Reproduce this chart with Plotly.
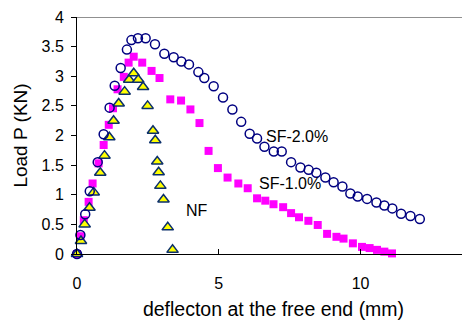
import plotly.graph_objects as go

sf2_x = [0, 0.12, 0.29, 0.45, 0.73, 0.94, 1.15, 1.33, 1.54, 1.76, 1.92, 2.15, 2.42, 2.75, 3.08,
         3.41, 3.68, 3.95, 4.28, 4.49, 4.82, 5.15, 5.48, 5.79, 6.09, 6.35, 6.61, 6.94, 7.22,
         7.55, 7.88, 8.17, 8.44, 8.76, 9.05, 9.36, 9.64, 9.90, 10.23, 10.56, 10.84, 11.12,
         11.43, 11.76, 12.09]
sf2_y = [0, 0.32, 0.67, 1.06, 1.55, 2.02, 2.47, 2.84, 3.14, 3.45, 3.61, 3.64, 3.64, 3.54, 3.38,
         3.32, 3.25, 3.20, 3.07, 2.97, 2.83, 2.64, 2.44, 2.23, 2.03, 1.95, 1.81, 1.73, 1.73,
         1.55, 1.46, 1.42, 1.37, 1.29, 1.21, 1.14, 1.02, 0.97, 0.93, 0.87, 0.82, 0.77,
         0.68, 0.64, 0.59]

sf1_x = [0, 0.12, 0.24, 0.41, 0.55, 0.76, 0.94, 1.12, 1.27, 1.43, 1.65, 1.82, 2.0, 2.30, 2.63,
         2.91, 3.29, 3.67, 4.0, 4.32, 4.64, 4.97, 5.31, 5.69, 6.02, 6.35, 6.64, 6.93, 7.27,
         7.55, 7.83, 8.16, 8.49, 8.82, 9.15, 9.40, 9.73, 10.05, 10.32, 10.58, 10.84, 11.11]
sf1_y = [0, 0.30, 0.57, 0.88, 1.19, 1.53, 1.84, 2.18, 2.46, 2.78, 2.99, 3.23, 3.33, 3.23, 3.09,
         2.97, 2.61, 2.59, 2.44, 2.21, 1.74, 1.45, 1.29, 1.19, 1.11, 0.94, 0.90, 0.84, 0.79,
         0.69, 0.62, 0.56, 0.49, 0.34, 0.29, 0.26, 0.18, 0.12, 0.10, 0.07, 0.04, 0.01]

nf_x = [0, 0.14, 0.27, 0.44, 0.59, 0.82, 0.97, 1.14, 1.29, 1.47, 1.68, 1.84, 2.0, 2.16, 2.33,
        2.49, 2.68, 2.76, 2.83, 2.88, 2.94, 3.05, 3.20, 3.37]
nf_y = [0, 0.22, 0.50, 0.78, 1.04, 1.37, 1.66, 1.97, 2.25, 2.54, 2.74, 2.94, 3.05, 2.94, 2.82,
        2.50, 2.08, 1.92, 1.56, 1.38, 1.15, 0.92, 0.45, 0.07]

labels = ["SF-2.0%", "SF-1.0%", "NF"]
label_x = [7.76, 7.5, 4.23]
label_y = [1.99, 1.19, 0.73]

y_ticks = [0, 0.5, 1, 1.5, 2, 2.5, 3, 3.5, 4]
y_ticktext = ["0", "0.5", "1", "1.5", "2", "2.5", "3", "3.5", "4"]
x_ticks = [0, 5, 10]

FONT = "Liberation Sans, Arial, sans-serif"

fig = go.Figure()
fig.add_trace(go.Scatter(x=sf1_x, y=sf1_y, mode="markers", name="SF-1.0%",
                         marker=dict(symbol="square", size=8, color="#FF00FF",
                                     line=dict(width=0)), cliponaxis=False))
fig.add_trace(go.Scatter(x=nf_x, y=nf_y, mode="markers", name="NF",
                         marker=dict(symbol="triangle-up", size=10, color="#FFFF00",
                                     line=dict(width=1.5, color="#0B2F6B")), cliponaxis=False))
fig.add_trace(go.Scatter(x=sf2_x, y=sf2_y, mode="markers", name="SF-2.0%",
                         marker=dict(symbol="circle-open", size=9, color="#000080",
                                     line=dict(width=1.5, color="#000080")), cliponaxis=False))

for t, xx, yy in zip(labels, label_x, label_y):
    fig.add_annotation(x=xx, y=yy, text=t, showarrow=False,
                       font=dict(family=FONT, size=16, color="black"))

fig.add_shape(type="line", xref="paper", yref="y", x0=0, x1=1, y0=4, y1=4,
              line=dict(color="#909090", width=2))

# page has an 8px body margin: figure occupies page x 8..470, y 8..320
fig.update_layout(
    width=462, height=312,
    margin=dict(l=69, r=0, t=9, b=66),
    paper_bgcolor="white", plot_bgcolor="white",
    showlegend=False,
    font=dict(family=FONT, size=16, color="black"),
    xaxis=dict(range=[0, 13.86], tickvals=x_ticks, ticks="inside", ticklen=5,
               tickcolor="black", showline=True, linecolor="black", linewidth=1,
               showgrid=False, zeroline=False, automargin=False,
               tickfont=dict(family=FONT, size=16), ticklabelstandoff=15,
               title=dict(text="deflecton at the free end (mm)", standoff=17,
                          font=dict(family=FONT, size=19.5))),
    yaxis=dict(range=[0, 4], tickvals=y_ticks, ticktext=y_ticktext, ticks="outside",
               ticklen=5, tickcolor="black", showline=True, linecolor="black", linewidth=1,
               showgrid=False, zeroline=False, automargin=False,
               tickfont=dict(family=FONT, size=16), ticklabelstandoff=4,
               title=dict(text="Load P (KN)", standoff=8,
                          font=dict(family=FONT, size=19))),
)

fig.write_html("out.html")
